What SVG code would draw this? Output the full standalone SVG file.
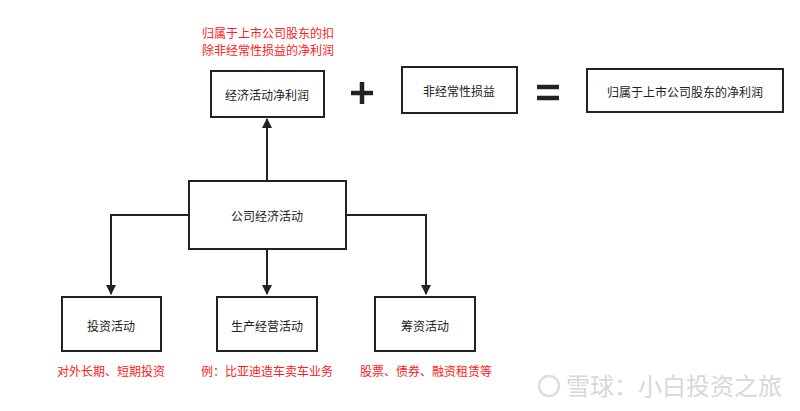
<svg xmlns="http://www.w3.org/2000/svg" width="800" height="411" viewBox="0 0 800 411">
<style>
.b{fill:#fff;stroke:#222;stroke-width:2}
.t{font-family:"Noto Sans CJK SC","Liberation Sans",sans-serif;font-size:12px;fill:#222;text-anchor:middle;dominant-baseline:central}
.r{font-family:"Noto Sans CJK SC","Liberation Sans",sans-serif;font-size:12px;fill:#ff2020;text-anchor:middle}
.c{fill:none;stroke:#222;stroke-width:2}
</style>
<defs><marker id="a" viewBox="0 0 10 10" refX="9" refY="5" markerWidth="5" markerHeight="5" orient="auto" markerUnits="strokeWidth"><path d="M0,0L10,5L0,10z" fill="#222"/></marker></defs>
<rect width="800" height="411" fill="#fff"/>
<g id="connectors">
<path class="c" d="M267,181V119" marker-end="url(#a)"/>
<path class="c" d="M189,215H111V294" marker-end="url(#a)"/>
<path class="c" d="M267,249V294" marker-end="url(#a)"/>
<path class="c" d="M346,215H426V294" marker-end="url(#a)"/>
</g>
<g id="n1"><rect class="b" x="211" y="71" width="113" height="46"/><text class="t" x="267" y="94">经济活动净利润</text></g>
<g id="n2"><rect class="b" x="402" y="67" width="115" height="46"/><text class="t" x="459" y="90">非经常性损益</text></g>
<g id="n3"><rect class="b" x="587" y="69" width="196" height="43"/><text class="t" x="685" y="91">归属于上市公司股东的净利润</text></g>
<g id="n4"><rect class="b" x="189" y="181" width="157" height="68"/><text class="t" x="267" y="215">公司经济活动</text></g>
<g id="n5"><rect class="b" x="62" y="297" width="99" height="54"/><text class="t" x="111" y="325">投资活动</text></g>
<g id="n6"><rect class="b" x="217" y="297" width="100" height="54"/><text class="t" x="267" y="325">生产经营活动</text></g>
<g id="n7"><rect class="b" x="375" y="297" width="100" height="54"/><text class="t" x="425" y="325">筹资活动</text></g>
<path d="M351,93H373M362,82V104" stroke="#222" stroke-width="4.5"/>
<path d="M537,87H559M537,98H559" stroke="#222" stroke-width="4.5"/>
<text class="r" x="268" y="38">归属于上市公司股东的扣</text>
<text class="r" x="268" y="55">除非经常性损益的净利润</text>
<text class="r" x="111" y="376">对外长期、短期投资</text>
<text class="r" x="267" y="376">例：比亚迪造车卖车业务</text>
<text class="r" x="426" y="376">股票、债券、融资租赁等</text>
<circle cx="549" cy="386" r="10" fill="none" stroke="#ddd" stroke-width="2.5"/>
<text x="566" y="395" font-family="Noto Sans CJK SC,sans-serif" font-size="24" fill="#d8d8d8">雪球：小白投资之旅</text>
</svg>
